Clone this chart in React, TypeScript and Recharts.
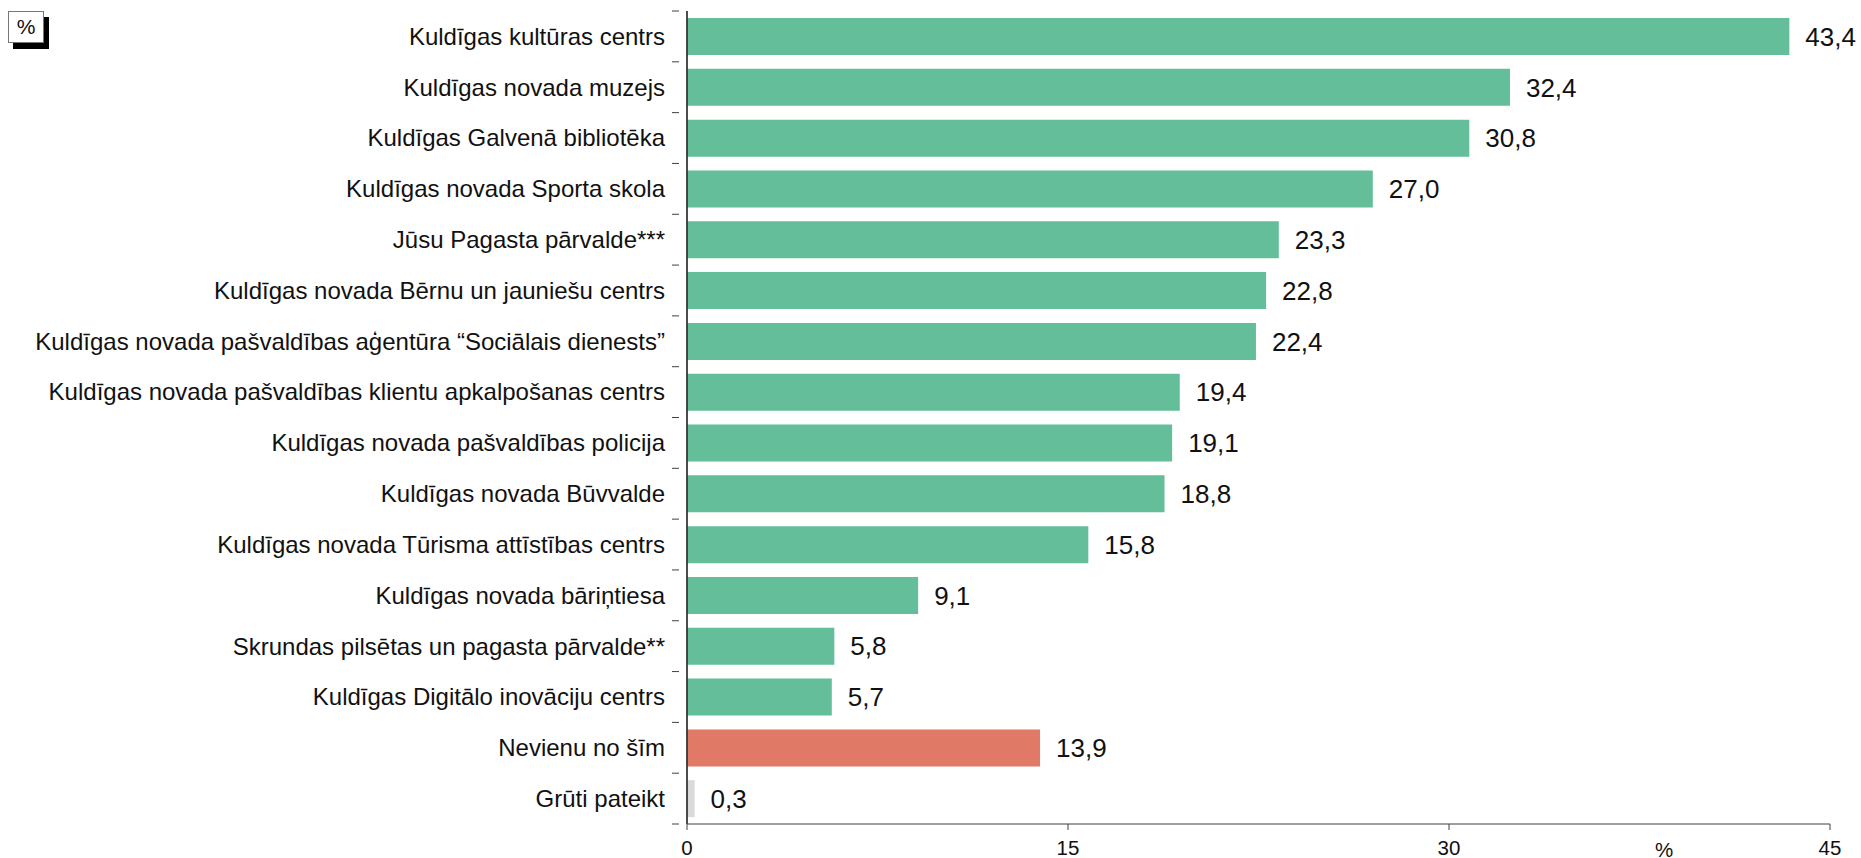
import { BarChart, Bar, XAxis, YAxis, Cell, LabelList, ReferenceLine } from 'recharts';

const categories = [
  'Kuldīgas kultūras centrs',
  'Kuldīgas novada muzejs',
  'Kuldīgas Galvenā bibliotēka',
  'Kuldīgas novada Sporta skola',
  'Jūsu Pagasta pārvalde***',
  'Kuldīgas novada Bērnu un jauniešu centrs',
  'Kuldīgas novada pašvaldības aģentūra “Sociālais dienests”',
  'Kuldīgas novada pašvaldības klientu apkalpošanas centrs',
  'Kuldīgas novada pašvaldības policija',
  'Kuldīgas novada Būvvalde',
  'Kuldīgas novada Tūrisma attīstības centrs',
  'Kuldīgas novada bāriņtiesa',
  'Skrundas pilsētas un pagasta pārvalde**',
  'Kuldīgas Digitālo inovāciju centrs',
  'Nevienu no šīm',
  'Grūti pateikt',
];
const values = [43.4, 32.4, 30.8, 27.0, 23.3, 22.8, 22.4, 19.4, 19.1, 18.8, 15.8, 9.1, 5.8, 5.7, 13.9, 0.3];
const kinds = ['inst', 'inst', 'inst', 'inst', 'inst', 'inst', 'inst', 'inst', 'inst', 'inst', 'inst', 'inst', 'inst', 'inst', 'none', 'dk'];
const xTicks = [0, 15, 30, 45];

const COLORS: Record<string, string> = {
  inst: '#63BE99',
  none: '#E07A66',
  dk: '#DADADA',
};

const FONT = '"Liberation Sans", Arial, sans-serif';
const W = 1861;
const H = 858;
const TOP = 11;
const BOTTOM_AXIS = 34;
const Y_AXIS_W = 687;
const BAND = (H - TOP - BOTTOM_AXIS) / categories.length;

const data = categories.map((name, i) => ({ name, value: values[i], kind: kinds[i] }));

function CategoryTick(props: any) {
  const { x, y, payload, index } = props;
  const top = y - BAND / 2;
  return (
    <g>
      <line x1={x - 7} x2={x} y1={top} y2={top} stroke="#404040" strokeWidth={1} />
      {index === categories.length - 1 && (
        <line x1={x - 7} x2={x} y1={top + BAND} y2={top + BAND} stroke="#404040" strokeWidth={1} />
      )}
      <text x={x - 14} y={y} dy="0.35em" textAnchor="end" fill="#111" fontSize={24} fontFamily={FONT}>
        {payload.value}
      </text>
    </g>
  );
}

export default function App() {
  return (
    <div style={{ position: 'absolute', left: 0, top: 0, width: W, height: H, background: '#fff' }}>
      <BarChart
        width={W}
        height={H}
        data={data}
        layout="vertical"
        margin={{ top: TOP, right: 31, left: 0, bottom: 0 }}
      >
        <XAxis
          type="number"
          domain={[0, 45]}
          ticks={xTicks}
          interval={0}
          height={BOTTOM_AXIS}
          tickSize={6}
          tickMargin={10}
          stroke="#404040"
          tick={{ fill: '#111', fontSize: 20.5, fontFamily: FONT }}
        />
        <YAxis
          type="category"
          dataKey="name"
          width={Y_AXIS_W}
          interval={0}
          tickLine={false}
          stroke="#404040"
          tick={<CategoryTick />}
        />
        <Bar dataKey="value" barSize={37} isAnimationActive={false}>
          {data.map((d, i) => (
            <Cell key={`cell-${i}`} fill={COLORS[d.kind]} />
          ))}
          <LabelList
            dataKey="value"
            position="right"
            offset={16}
            formatter={(v: any) => Number(v).toFixed(1).replace('.', ',')}
            style={{ fill: '#111', fontSize: 26, fontFamily: FONT }}
          />
        </Bar>
        <ReferenceLine x={0} stroke="#202020" strokeWidth={1.5} ifOverflow="extendDomain" />
      </BarChart>
      <div
        style={{
          position: 'absolute',
          left: 1655,
          top: 838,
          fontFamily: FONT,
          fontSize: 20.5,
          color: '#111',
        }}
      >
        %
      </div>
      <div
        style={{
          position: 'absolute',
          left: 8,
          top: 11,
          width: 34,
          height: 30,
          border: '1px solid #777',
          background: '#fff',
          boxShadow: '5px 6px 0 #000',
          fontFamily: FONT,
          fontSize: 21,
          lineHeight: '30px',
          textAlign: 'center',
          color: '#111',
        }}
      >
        %
      </div>
    </div>
  );
}
